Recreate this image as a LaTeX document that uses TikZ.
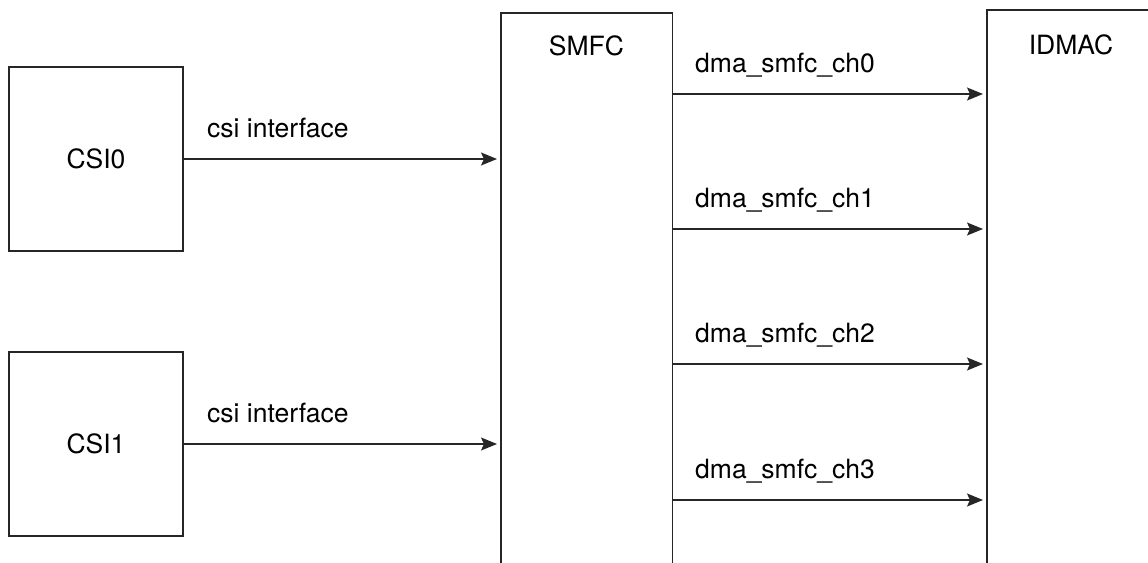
\documentclass[tikz,border=0pt]{standalone}
\usepackage{fontspec}
\setmainfont{TeX Gyre Heros}
\usetikzlibrary{arrows.meta}
\begin{document}
\begin{tikzpicture}[x=1pt,y=-1pt,
  box/.style={draw=black!85,line width=1.4pt,minimum width=174pt,minimum height=184pt,inner sep=0pt,font=\fontsize{26.5}{32}\selectfont},
  lbl/.style={inner sep=0pt,anchor=base west,font=\fontsize{26.5}{32}\selectfont},
  ttl/.style={inner sep=0pt,anchor=base,font=\fontsize{26.5}{32}\selectfont},
  frame/.style={draw=none,inner sep=0pt,anchor=north west},
  edge/.style={draw=black!85,line width=1.4pt},
  arr/.style={edge,-{Stealth[length=16pt,width=13pt,inset=3pt]},shorten >=4pt}]
\useasboundingbox (0,0) rectangle (1148,562);
% left boxes
\node[box] (csi0) at (96,159) {CSI0};
\node[box] (csi1) at (96,444) {CSI1};
% SMFC (open at bottom)
\node[frame,minimum width=171pt,minimum height=560pt] (smfc) at (501,13) {};
\draw[edge] (smfc.south west) -- (smfc.north west) -- (smfc.north east) -- (smfc.south east);
\node[ttl] (smfct) at (586.5,55) {SMFC};
% IDMAC (cut off at right and bottom)
\node[frame,minimum width=200pt,minimum height=560pt] (idmac) at (987,10) {};
\draw[edge] (idmac.south west) -- (idmac.north west) -- (idmac.north east);
\node[ttl] (idmact) at (1071,54) {IDMAC};
% csi connectors
\draw[arr] (csi0.east) -- (csi0.east -| smfc.west);
\draw[arr] (csi1.east) -- (csi1.east -| smfc.west);
\node[lbl] (l0) at (207,137) {csi interface};
\node[lbl] (l1) at (207,422) {csi interface};
% dma channels
\coordinate (s0) at (672,94);
\coordinate (s1) at (672,229);
\coordinate (s2) at (672,364);
\coordinate (s3) at (672,500);
\foreach \i in {0,1,2,3}{
  \draw[arr] (s\i) -- (s\i -| idmac.west);
}
\node[lbl] (d0) at (695,72) {dma\_smfc\_ch0};
\node[lbl] (d1) at (695,207) {dma\_smfc\_ch1};
\node[lbl] (d2) at (695,342) {dma\_smfc\_ch2};
\node[lbl] (d3) at (695,478) {dma\_smfc\_ch3};
\end{tikzpicture}
\end{document}
